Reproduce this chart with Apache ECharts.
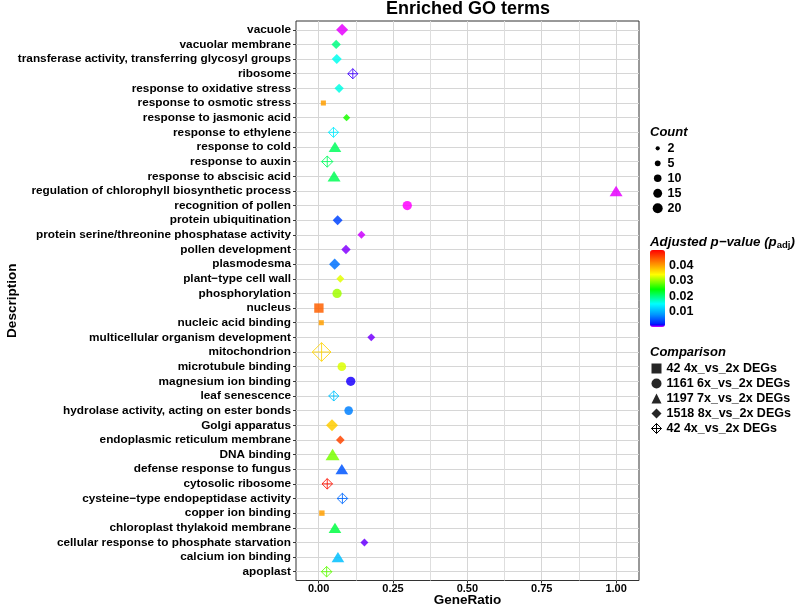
<!DOCTYPE html>
<html>
<head>
<meta charset="utf-8">
<script src="https://cdn.jsdelivr.net/npm/echarts@6/dist/echarts.min.js"></script>
<style>
  html, body { margin: 0; padding: 0; background: #fff; }
  #chart { width: 800px; height: 605px; }
</style>
</head>
<body>
<div id="chart"></div>
<script>
// GO terms, top to bottom
const categories = [
  "vacuole", "vacuolar membrane", "transferase activity, transferring glycosyl groups",
  "ribosome", "response to oxidative stress", "response to osmotic stress",
  "response to jasmonic acid", "response to ethylene", "response to cold",
  "response to auxin", "response to abscisic acid",
  "regulation of chlorophyll biosynthetic process", "recognition of pollen",
  "protein ubiquitination", "protein serine/threonine phosphatase activity",
  "pollen development", "plasmodesma", "plant\u2212type cell wall", "phosphorylation",
  "nucleus", "nucleic acid binding", "multicellular organism development",
  "mitochondrion", "microtubule binding", "magnesium ion binding", "leaf senescence",
  "hydrolase activity, acting on ester bonds", "Golgi apparatus",
  "endoplasmic reticulum membrane", "DNA binding", "defense response to fungus",
  "cytosolic ribosome", "cysteine\u2212type endopeptidase activity", "copper ion binding",
  "chloroplast thylakoid membrane", "cellular response to phosphate starvation",
  "calcium ion binding", "apoplast"
];
const geneRatio = [
  0.079, 0.059, 0.061, 0.115, 0.069, 0.016, 0.094, 0.050, 0.055, 0.029, 0.052,
  1.000, 0.298, 0.064, 0.144, 0.092, 0.054, 0.073, 0.062, 0.001, 0.009, 0.177,
  0.010, 0.078, 0.108, 0.051, 0.101, 0.045, 0.073, 0.047, 0.078, 0.029, 0.080,
  0.011, 0.055, 0.154, 0.065, 0.027
];
const padj = [
  0.0001, 0.0197, 0.0156, 0.0010, 0.0160, 0.0400, 0.0255, 0.0138, 0.0210, 0.0210, 0.0213,
  0.0001, 0.0000, 0.0038, 0.0002, 0.0005, 0.0062, 0.0330, 0.0305, 0.0440, 0.0400, 0.0006,
  0.0367, 0.0327, 0.0014, 0.0111, 0.0069, 0.0372, 0.0457, 0.0290, 0.0047, 0.0490, 0.0058,
  0.0400, 0.0220, 0.0007, 0.0108, 0.0280
];
const geneCount = [
  44, 25, 29, 11, 25, 5, 14, 11, 19, 14, 20,
  20, 17, 29, 17, 25, 38, 17, 17, 23, 5, 17,
  46, 14, 17, 11, 14, 44, 21, 24, 19, 12, 12,
  6, 19, 17, 19, 12
];
// index into comparisons
const comparisonIdx = [
  3, 3, 3, 4, 3, 0, 3, 4, 2, 4, 2,
  2, 1, 3, 3, 3, 3, 3, 1, 0, 0, 3,
  4, 1, 1, 4, 1, 3, 3, 2, 2, 4, 4,
  0, 2, 3, 2, 4
];
const comparisons = [
  "42 4x_vs_2x DEGs", "1161 6x_vs_2x DEGs", "1197 7x_vs_2x DEGs",
  "1518 8x_vs_2x DEGs", "42 4x_vs_2x DEGs "
];
const countBreaks = [2, 5, 10, 15, 20];
const padjBreaks = [0.01, 0.02, 0.03, 0.04];
const xMajor = [0, 0.25, 0.5, 0.75, 1.0];
const xMinor = [0.125, 0.375, 0.625, 0.875];

const FONT = "Liberation Sans, Arial, sans-serif";
const PADJ_MAX = 0.05;

// rainbow colour scale for padj
const hueAt = [[0, 300], [0.0006, 265], [0.002, 232], [0.008, 205], [0.015, 180],
               [0.0245, 120], [0.034, 60], [0.042, 30], [0.05, 0]];
function hue(v) {
  for (let k = 1; k < hueAt.length; k++) {
    if (v <= hueAt[k][0]) {
      const a = hueAt[k - 1], b = hueAt[k];
      return a[1] + (b[1] - a[1]) * (v - a[0]) / (b[0] - a[0]);
    }
  }
  return 0;
}
const rainbow = [];
for (let k = 0; k <= 100; k++) rainbow.push("hsl(" + hue(k * PADJ_MAX / 100).toFixed(1) + ",100%,50%)");

function diam(c) { return 1.5 + 1.9 * Math.sqrt(c); }

function rowsOf(g) {
  const out = [];
  categories.forEach((c, i) => {
    if (comparisonIdx[i] === g) out.push([geneRatio[i], i, geneCount[i], padj[i]]);
  });
  return out;
}

const shapeSym = ["rect", "circle", "triangle", "diamond"];
const shapeScale = [[0.88, 0.88], [1, 1], [1.3, 1.05], [0.85, 0.85]];

const series = [0, 1, 2, 3].map(g => ({
  type: "scatter",
  name: comparisons[g],
  data: rowsOf(g),
  symbol: shapeSym[g],
  symbolSize: v => [diam(v[2]) * shapeScale[g][0], diam(v[2]) * shapeScale[g][1]],
  itemStyle: { opacity: 0.85 },
  silent: true
}));
series.push({
  type: "custom",
  name: comparisons[4],
  coordinateSystem: "cartesian2d",
  data: rowsOf(4),
  encode: { x: 0, y: 1 },
  silent: true,
  renderItem: function (params, api) {
    const p = api.coord([api.value(0), api.value(1)]);
    const s = diam(api.value(2)) * 1.3 / 2;
    const col = api.visual("color");
    const st = { fill: "none", stroke: col, lineWidth: 1, opacity: 0.85 };
    return {
      type: "group",
      children: [
        { type: "polygon", shape: { points: [[p[0], p[1] - s], [p[0] + s, p[1]], [p[0], p[1] + s], [p[0] - s, p[1]]] }, style: st },
        { type: "line", shape: { x1: p[0], y1: p[1] - s, x2: p[0], y2: p[1] + s }, style: st },
        { type: "line", shape: { x1: p[0] - s, y1: p[1], x2: p[0] + s, y2: p[1] }, style: st }
      ]
    };
  }
});

const graphic = [];
const legTitle = { fontFamily: FONT, fontSize: 13, fontWeight: "bold", fontStyle: "italic", fill: "#000" };
const legText = { fontFamily: FONT, fontSize: 12.5, fontWeight: "bold", fill: "#000", verticalAlign: "middle" };
graphic.push({ type: "text", left: 650, top: 126, style: Object.assign({ text: "Count" }, legTitle) });
countBreaks.forEach((c, k) => {
  const cy = 148.3 + 15 * k;
  graphic.push({ type: "circle", shape: { cx: 657.7, cy: cy, r: diam(c) / 2 }, style: { fill: "#000" } });
  graphic.push({ type: "text", x: 667.5, y: cy, style: Object.assign({ text: String(c) }, legText) });
});
graphic.push({
  type: "text", x: 650, y: 242.7,
  style: {
    text: "{t|Adjusted p\u2212value (}{t|p}{s|adj}{t|)}",
    verticalAlign: "middle",
    rich: {
      t: Object.assign({}, legTitle, { fontSize: 13.3 }),
      s: { fontFamily: FONT, fontSize: 9.5, fontWeight: "bold", fill: "#000", verticalAlign: "bottom", padding: [6, 0, 0, 0] }
    }
  }
});
padjBreaks.forEach(v => {
  graphic.push({ type: "text", x: 669, y: 327 - v / PADJ_MAX * 77, style: Object.assign({ text: v.toFixed(2) }, legText) });
});
graphic.push({ type: "text", left: 650, top: 346, style: Object.assign({ text: "Comparison" }, legTitle) });

const crossDiamond = "path://M5,0L10,5L5,10L0,5ZM5,0L5,10M0,5L10,5";

const option = {
  animation: false,
  backgroundColor: "#fff",
  title: {
    text: "Enriched GO terms",
    left: 468, top: 0, padding: 0, textAlign: "center",
    textStyle: { fontFamily: FONT, fontSize: 18, fontWeight: "bold", color: "#000" }
  },
  grid: {
    left: 296, right: 161, top: 21, bottom: 24.5,
    show: true, borderColor: "#333", borderWidth: 1,
    outerBoundsMode: "none"
  },
  xAxis: [{
    type: "value", min: -0.076, max: 1.077,
    name: "GeneRatio", nameLocation: "middle", nameGap: 13, nameMoveOverlap: false,
    nameTextStyle: { fontFamily: FONT, fontSize: 13.5, fontWeight: "bold", color: "#000" },
    axisLine: { show: false, onZero: false },
    axisTick: { show: true, length: 3, lineStyle: { color: "#333" }, customValues: xMajor },
    axisLabel: { customValues: xMajor, formatter: v => v.toFixed(2), margin: 3,
      fontFamily: FONT, fontSize: 11, fontWeight: "bold", color: "#000" },
    splitLine: { show: true, lineStyle: { color: "#d6d6d6", width: 1 } }
  }, {
    type: "value", min: -0.076, max: 1.077, gridIndex: 0, position: "bottom",
    axisLine: { show: false, onZero: false },
    axisTick: { show: false, customValues: xMinor },
    axisLabel: { show: false },
    splitLine: { show: true, lineStyle: { color: "#dedede", width: 1 } }
  }],
  yAxis: {
    type: "value", min: -0.6, max: categories.length - 0.4, inverse: true,
    name: "Description", nameLocation: "middle", nameGap: 277, nameRotate: 90, nameMoveOverlap: false,
    nameTextStyle: { fontFamily: FONT, fontSize: 13.5, fontWeight: "bold", color: "#000" },
    axisLine: { show: false, onZero: false },
    axisTick: { show: true, length: 3, lineStyle: { color: "#333" }, customValues: categories.map((c, i) => i) },
    axisLabel: { customValues: categories.map((c, i) => i), formatter: v => categories[Math.round(v)], margin: 5,
      fontFamily: FONT, fontSize: 11.8, fontWeight: "bold", color: "#000" },
    splitLine: { show: true, lineStyle: { color: "#d6d6d6", width: 1 } }
  },
  visualMap: {
    type: "continuous", min: 0, max: PADJ_MAX, dimension: 3,
    seriesIndex: [0, 1, 2, 3, 4],
    inRange: { color: rainbow },
    calculable: false, hoverLink: false, realtime: false,
    left: 650, top: 250, itemWidth: 15, itemHeight: 77, padding: 0,
    text: null, showLabel: false
  },
  legend: {
    orient: "vertical", left: 651, top: 361, padding: 0,
    itemWidth: 10, itemHeight: 10, itemGap: 0,
    selectedMode: false,
    textStyle: { fontFamily: FONT, fontSize: 12.5, fontWeight: "bold", color: "#000", lineHeight: 15 },
    data: [
      { name: comparisons[0], icon: "rect", itemStyle: { color: "#000" } },
      { name: comparisons[1], icon: "circle", itemStyle: { color: "#000" } },
      { name: comparisons[2], icon: "triangle", itemStyle: { color: "#000" } },
      { name: comparisons[3], icon: "diamond", itemStyle: { color: "#000" } },
      { name: comparisons[4], icon: crossDiamond, itemStyle: { color: "rgba(0,0,0,0)", borderColor: "#000", borderWidth: 1 } }
    ]
  },
  graphic: graphic,
  series: series
};

const chart = echarts.init(document.getElementById("chart"));
chart.setOption(option);
</script>
</body>
</html>
